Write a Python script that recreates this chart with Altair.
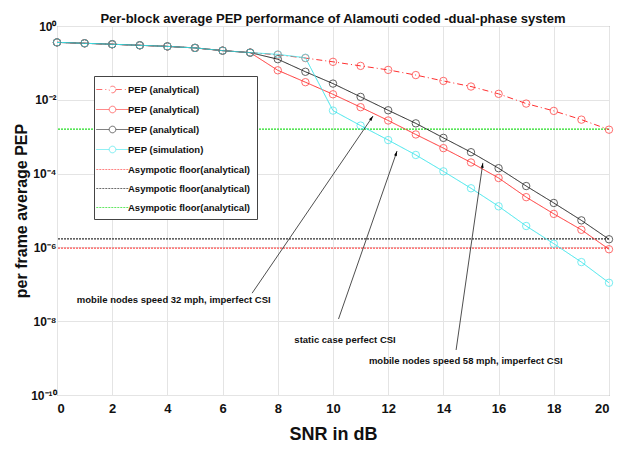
import math
import altair as alt
import pandas as pd

snr = list(range(0, 21))
pep_32mph = [0.36, 0.34, 0.32, 0.30, 0.28, 0.255, 0.215, 0.19, 0.166, 0.135, 0.107, 0.083, 0.0646,
             0.0468, 0.0324, 0.0229, 0.0145, 0.0079, 0.0050, 0.0029, 0.00155]
pep_static = [0.36, 0.34, 0.32, 0.30, 0.28, 0.255, 0.215, 0.19, 0.063, 0.030, 0.0141, 0.0063, 0.00275,
              0.00115, 4.9e-4, 2.0e-4, 7.6e-5, 2.3e-5, 8.1e-6, 3.0e-6, 8.9e-7]
pep_58mph = [0.36, 0.34, 0.32, 0.30, 0.28, 0.255, 0.215, 0.19, 0.126, 0.0575, 0.0275, 0.012, 0.0052,
             0.0023, 9.3e-4, 3.8e-4, 1.4e-4, 4.6e-5, 1.6e-5, 5.4e-6, 1.66e-6]
pep_sim = [0.36, 0.34, 0.32, 0.30, 0.28, 0.255, 0.215, 0.19, 0.17, 0.138, 0.0051, 0.002, 8.1e-4,
           3.2e-4, 1.15e-4, 4.0e-5, 1.3e-5, 3.8e-6, 1.26e-6, 4.0e-7, 1.1e-7]
floor_red = 9.5e-7
floor_black = 1.7e-6
floor_green = 1.6e-3

keys = ["PEP (analytical)|1", "PEP (analytical)|2", "PEP (analytical)|3", "PEP (simulation)|4",
        "Asympotic floor(analytical)|5", "Asympotic floor(analytical)|6", "Asympotic floor(analytical)|7"]
colors = ["#ff3030", "#ff3030", "#202020", "#3ce6ec", "#ff5050", "#303030", "#22dd22"]
dashes = [[6, 3, 1, 3], [1, 0], [1, 0], [1, 0], [2, 1], [2, 1], [2, 1]]
circle_path = "M-2.7,0H-0.55M0.55,0H2.7M0.55,0A0.55,0.55 0 1 1 -0.55,0A0.55,0.55 0 1 1 0.55,0"
line_path = "M-2.7,0H2.7"
shapes = [circle_path] * 4 + [line_path] * 3

ann_text = ["mobile nodes speed 32 mph, imperfect CSI", "static case perfect CSI",
            "mobile nodes speed 58 mph, imperfect CSI"]
ann_text_x = [0.72, 8.6, 11.3]
ann_text_y = [10 ** -7.43, 10 ** -8.51, 10 ** -9.08]
arrow_tail_x = [7.07, 10.2, 14.46]
arrow_tail_y = [10 ** -7.24, 10 ** -7.94, 10 ** -8.78]
arrow_head_x = [11.45, 12.32, 15.43]
arrow_head_y = [10 ** -2.44, 10 ** -3.39, 10 ** -3.71]

W, H = 552, 369
px_per_db = W / 20.0
px_per_dec = H / 10.0

rows = []
for k, series in zip(keys[:4], [pep_32mph, pep_static, pep_58mph, pep_sim]):
    for x, v in zip(snr, series):
        rows.append({"series": k, "snr": x, "pep": v})
curves = pd.DataFrame(rows)
floors = pd.DataFrame({"series": keys[4:], "pep": [floor_red, floor_black, floor_green]})

angles = []
for xt, yt, xh, yh in zip(arrow_tail_x, arrow_tail_y, arrow_head_x, arrow_head_y):
    dx = (xh - xt) * px_per_db
    dy = -(math.log10(yh) - math.log10(yt)) * px_per_dec
    angles.append(math.degrees(math.atan2(dx, -dy)) % 360)
arrows = pd.DataFrame({"xt": arrow_tail_x, "yt": arrow_tail_y, "xh": arrow_head_x,
                       "yh": arrow_head_y, "angle": angles})
texts = pd.DataFrame({"t": ann_text, "x": ann_text_x, "y": ann_text_y})

FONT = "Liberation Sans"

leg = alt.Legend(title=None, orient="none", legendX=37, legendY=50,
                 labelExpr="split(datum.label, '|')[0]")
color = alt.Color("series:N", scale=alt.Scale(domain=keys, range=colors), legend=leg)
dash = alt.StrokeDash("series:N", scale=alt.Scale(domain=keys, range=dashes), legend=leg)
shape = alt.Shape("series:N", scale=alt.Scale(domain=keys, range=shapes), legend=leg)

x_enc = alt.X("snr:Q", scale=alt.Scale(domain=[0, 20], nice=False),
              axis=alt.Axis(values=list(range(0, 21, 2)), title="SNR in dB", titleFontSize=18,
                            titlePadding=10, labelPadding=7))
y_label_expr = ("round(log(datum.value)/LN10) == 0 ? '10⁰' : round(log(datum.value)/LN10) == -2 ? '10⁻²' : "
                "round(log(datum.value)/LN10) == -4 ? '10⁻⁴' : round(log(datum.value)/LN10) == -6 ? '10⁻⁶' : "
                "round(log(datum.value)/LN10) == -8 ? '10⁻⁸' : '10⁻¹⁰'")
y_scale = alt.Scale(type="log", domain=[1e-10, 1], nice=False)
y_enc = alt.Y("pep:Q", scale=y_scale,
              axis=alt.Axis(values=[1, 1e-2, 1e-4, 1e-6, 1e-8, 1e-10], labelExpr=y_label_expr,
                            title="per frame average PEP", titleFontSize=16, titlePadding=1,
                            labelPadding=1, labelFontSize=12))

floor_layer = alt.Chart(floors).mark_rule(strokeWidth=1.2).encode(y=y_enc, color=color, strokeDash=dash)
line_layer = alt.Chart(curves).mark_line(strokeWidth=1).encode(x=x_enc, y=y_enc, color=color,
                                                                strokeDash=dash)
point_layer = alt.Chart(curves).mark_point(filled=False, size=55, strokeWidth=1).encode(
    x=x_enc, y=y_enc, color=alt.Color("series:N", scale=alt.Scale(domain=keys, range=colors), legend=leg))
legend_layer = alt.Chart(curves).transform_filter("false").mark_point(filled=False, strokeWidth=1).encode(
    x=x_enc, y=y_enc, color=color, shape=shape, strokeDash=dash)

arrow_lines = alt.Chart(arrows).mark_rule(color="#222", strokeWidth=0.8).encode(
    x=alt.X("xt:Q"), y=alt.Y("yt:Q"), x2="xh:Q", y2="yh:Q")
arrow_heads = alt.Chart(arrows).mark_point(shape="M0,0L0.4,1.4L-0.4,1.4Z", filled=True, color="black",
                                           size=50, opacity=1).encode(
    x=alt.X("xh:Q"), y=alt.Y("yh:Q"), angle=alt.Angle("angle:Q", scale=None))
text_layer = alt.Chart(texts).mark_text(align="left", baseline="middle", font=FONT, fontSize=9.5,
                                        fontWeight="bold", color="#111").encode(
    x=alt.X("x:Q"), y=alt.Y("y:Q"), text="t:N")

chart = alt.layer(floor_layer, line_layer, point_layer, legend_layer, arrow_lines, arrow_heads,
                  text_layer).resolve_scale(color="shared").properties(
    width=W, height=H,
    title=alt.Title("Per-block average PEP performance of Alamouti coded -dual-phase system",
                    font=FONT, fontSize=13, fontWeight="bold", anchor="middle", offset=-6, color="#111"),
).configure_view(stroke="#777", strokeWidth=1).configure_axis(
    grid=True, gridColor="#e4e4e4", gridWidth=1, domain=False, ticks=False,
    labelFont=FONT, labelFontSize=13, labelFontWeight="bold", labelColor="#111",
    titleFont=FONT, titleFontWeight="bold", titleColor="#111",
).configure_legend(
    fillColor="white", strokeColor="#444", padding=7, rowPadding=8, symbolSize=144,
    symbolOffset=5, labelOffset=9, labelFont=FONT, labelFontSize=9.5, labelFontWeight="bold",
    labelColor="#111", symbolStrokeWidth=1, cornerRadius=0,
)

chart.save("out.html", embed_options={"renderer": "svg", "actions": False})
